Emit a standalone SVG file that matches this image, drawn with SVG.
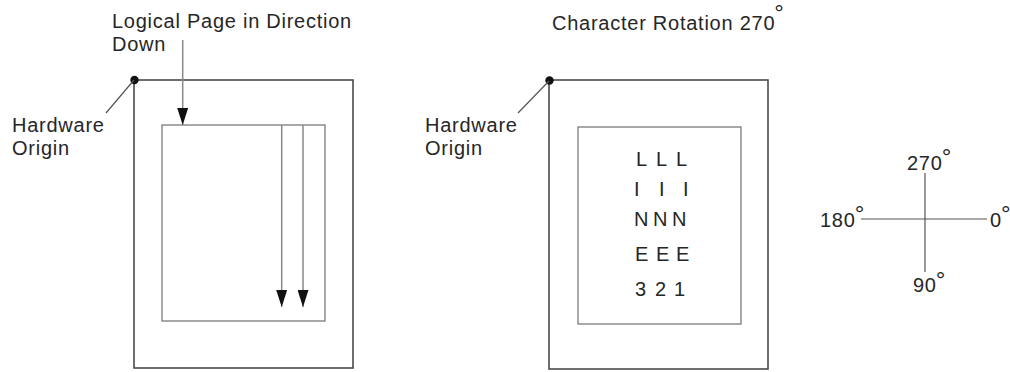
<svg xmlns="http://www.w3.org/2000/svg" width="1010" height="372" viewBox="0 0 1010 372">
<style>
  text { font-family: "Liberation Sans", Arial, sans-serif; font-size: 20px; fill: #262626; letter-spacing: 0.75px; }
  .deg { font-size: 24px; letter-spacing: 0; }
  .grid { letter-spacing: 0; }
  .outer { fill: none; stroke: #4a4a4a; stroke-width: 1.6; }
  .inner { fill: none; stroke: #7a7a7a; stroke-width: 1.3; }
  .arrow { stroke: #8a8a8a; stroke-width: 1.5; fill: none; }
  .leader { stroke: #555; stroke-width: 1.2; fill: none; }
  .axis { stroke: #555; stroke-width: 1.2; fill: none; }
</style>
<defs>
  <marker id="ah" viewBox="0 0 17 11" refX="17" refY="5.5" markerWidth="17" markerHeight="11" markerUnits="userSpaceOnUse" orient="auto">
    <path d="M0,0 L17,5.5 L0,11 z" fill="#111"/>
  </marker>
</defs>

<g id="left-page">
  <rect class="outer" x="134" y="80" width="219" height="288"/>
  <circle cx="134.5" cy="80" r="4.2" fill="#111"/>
  <text x="12" y="132">Hardware</text>
  <text x="12" y="155">Origin</text>
</g>
<g id="logical-page">
  <rect class="inner" x="162" y="125" width="163" height="196"/>
  <text x="112" y="28">Logical Page in Direction</text>
  <text x="112" y="51">Down</text>
</g>

<g id="right-page">
  <rect class="outer" x="549" y="80" width="219" height="289"/>
  <circle cx="549.5" cy="80.5" r="4.2" fill="#111"/>
  <text x="425" y="132">Hardware</text>
  <text x="425" y="155">Origin</text>
  <text x="552" y="30">Character Rotation 270<tspan class="deg" dx="-1" dy="-9">°</tspan></text>
</g>
<g id="rotated-text">
  <rect class="inner" x="578" y="127" width="163" height="197"/>
  <text class="grid" x="636 656 676" y="166">LLL</text>
  <text class="grid" x="634 659 683" y="196">III</text>
  <text class="grid" x="634 653 672" y="226">NNN</text>
  <text class="grid" x="635 656 676" y="261">EEE</text>
  <text class="grid" x="635 655 674" y="296">321</text>
</g>

<g id="compass">
  <line class="axis" x1="925" y1="173" x2="925" y2="272"/>
  <line class="axis" x1="861" y1="219" x2="987" y2="219"/>
  <text x="907" y="170">270<tspan class="deg" dx="-1" dy="-5">°</tspan></text>
  <text x="820" y="227">180<tspan class="deg" dx="-1" dy="-5">°</tspan></text>
  <text x="990" y="227">0<tspan class="deg" dx="-1" dy="-5">°</tspan></text>
  <text x="913" y="292">90<tspan class="deg" dx="-1" dy="-4">°</tspan></text>
</g>

<g id="connectors">
  <line class="leader" x1="134" y1="80" x2="106" y2="113"/>
  <line class="leader" x1="549" y1="81" x2="518" y2="113"/>
  <line class="arrow" x1="182.7" y1="40" x2="182.7" y2="125" marker-end="url(#ah)"/>
  <line class="arrow" x1="281.7" y1="125" x2="281.7" y2="307" marker-end="url(#ah)"/>
  <line class="arrow" x1="303" y1="125" x2="303" y2="307" marker-end="url(#ah)"/>
</g>
</svg>
